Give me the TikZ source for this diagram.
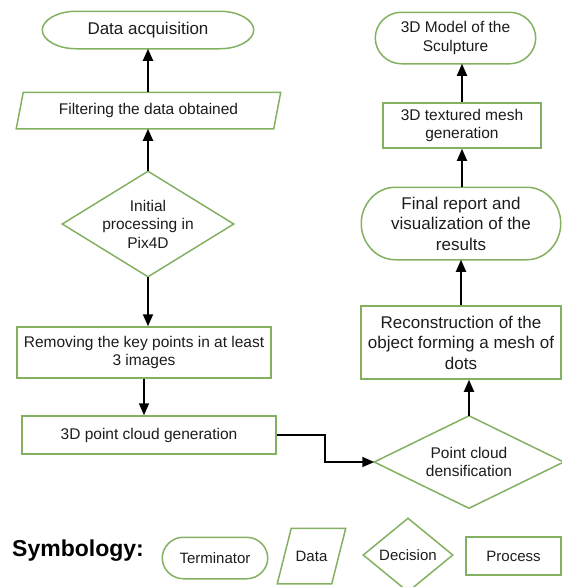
\documentclass[tikz,border=0pt]{standalone}
\usepackage{fontspec}
\setmainfont{Liberation Sans}
\usetikzlibrary{arrows.meta}
\definecolor{lgreen}{RGB}{132,176,98}
\definecolor{txt}{RGB}{28,28,28}
\tikzset{
  base/.style={font=\fontsize{15.5}{18.5}\selectfont, text=txt, align=center, inner sep=0pt, line width=1.5pt},
  big/.style={font=\fontsize{17}{20.5}\selectfont},
  proc/.style={base, draw=lgreen, rectangle},
  ghost/.style={base, rectangle},
  shapeline/.style={draw=lgreen, line width=1.5pt, line join=miter},
  arr/.style={draw=black, line width=1.8pt, -{Triangle[length=12pt,width=10pt]}},
}
% terminator: node name, x radius of the ends (number), half height (number)
\newcommand{\termshape}[3]{%
  \pgfmathsetmacro{\tA}{0.4477*#2}%
  \pgfmathsetmacro{\tB}{0.5523*#3}%
  \draw[shapeline] ([xshift=#2pt]#1.north west) -- ([xshift=-#2pt]#1.north east)
    .. controls ([xshift=-\tA pt]#1.north east) and ([yshift=\tB pt]#1.east) .. (#1.east)
    .. controls ([yshift=-\tB pt]#1.east) and ([xshift=-\tA pt]#1.south east) .. ([xshift=-#2pt]#1.south east)
    -- ([xshift=#2pt]#1.south west)
    .. controls ([xshift=\tA pt]#1.south west) and ([yshift=-\tB pt]#1.west) .. (#1.west)
    .. controls ([yshift=\tB pt]#1.west) and ([xshift=\tA pt]#1.north west) .. cycle;}
\newcommand{\paragshape}[2]{%
  \draw[shapeline] ([xshift=#2]#1.north west) -- (#1.north east)
    -- ([xshift=-#2]#1.south east) -- (#1.south west) -- cycle;}
\newcommand{\diamshape}[1]{%
  \draw[shapeline] (#1.north) -- (#1.east) -- (#1.south) -- (#1.west) -- cycle;}
\begin{document}
\begin{tikzpicture}[x=1pt,y=-1pt]
\useasboundingbox (0,0) rectangle (562,587);
% left column
\node[ghost, big, minimum width=210pt, minimum height=36pt] (daq) at (148,30) {Data acquisition};
\node[ghost, minimum width=263pt, minimum height=35pt] (filter) at (148.5,110.5) {Filtering the data obtained};
\node[ghost, minimum width=170pt, minimum height=104pt] (init) at (148,224) {Initial\\processing in\\Pix4D};
\node[proc, minimum width=254pt, minimum height=51pt] (rem) at (144,352.5) {Removing the key points in at least\\3 images};
\node[proc, minimum width=254pt, minimum height=38pt] (pcg) at (149,435) {3D point cloud generation};
% right column
\node[ghost, minimum width=188pt, minimum height=91pt] (dens) at (469,462) {Point cloud\\densification};
\node[proc, big, minimum width=200pt, minimum height=73pt] (recon) at (461,342.5) {Reconstruction of the\\object forming a mesh of\\dots};
\node[ghost, big, minimum width=198pt, minimum height=71pt] (final) at (461,223.5) {Final report and\\visualization of the\\results};
\node[proc, minimum width=158pt, minimum height=45pt] (mesh) at (462,125.5) {3D textured mesh\\generation};
\node[ghost, minimum width=159pt, minimum height=50pt] (model) at (455.5,38) {3D Model of the\\Sculpture};
% legend
\node[anchor=west, inner sep=0pt, font=\bfseries\fontsize{23}{27}\selectfont, text=black] (sym) at (12,551) {Symbology:};
\node[ghost, font=\fontsize{15}{18}\selectfont, minimum width=104pt, minimum height=40pt] (lterm) at (215,558) {Terminator};
\node[ghost, font=\fontsize{15}{18}\selectfont, minimum width=67pt, minimum height=54pt] (ldata) at (311.5,556) {Data};
\node[ghost, font=\fontsize{15}{18}\selectfont, minimum width=88pt, minimum height=72pt] (ldec) at (408,555) {Decision};
\node[proc, font=\fontsize{15}{18}\selectfont, minimum width=95pt, minimum height=38pt] (lproc) at (513.5,556) {Process};
% shapes
\termshape{daq}{34}{18}
\paragshape{filter}{7pt}
\diamshape{init}
\diamshape{dens}
\termshape{final}{34}{35.5}
\termshape{model}{26}{25}
\termshape{lterm}{21}{20}
\paragshape{ldata}{14pt}
\diamshape{ldec}
% connectors
\coordinate (bend) at (325,435);
\draw[arr] (init.north) -- (init.north |- filter.south);
\draw[arr] (daq.south |- filter.north) -- (daq.south);
\draw[arr] (init.south) -- (init.south |- rem.north);
\draw[arr] (rem.south) -- (rem.south |- pcg.north);
\draw[arr] (pcg.east) -- (pcg.east -| bend) -- (bend |- dens.west) -- (dens.west);
\draw[arr] (dens.north) -- (dens.north |- recon.south);
\draw[arr] (recon.north) -- (final.south);
\draw[arr] (mesh.south |- final.north) -- (mesh.south);
\draw[arr] (mesh.north) -- (mesh.north |- model.south);
\end{tikzpicture}
\end{document}
